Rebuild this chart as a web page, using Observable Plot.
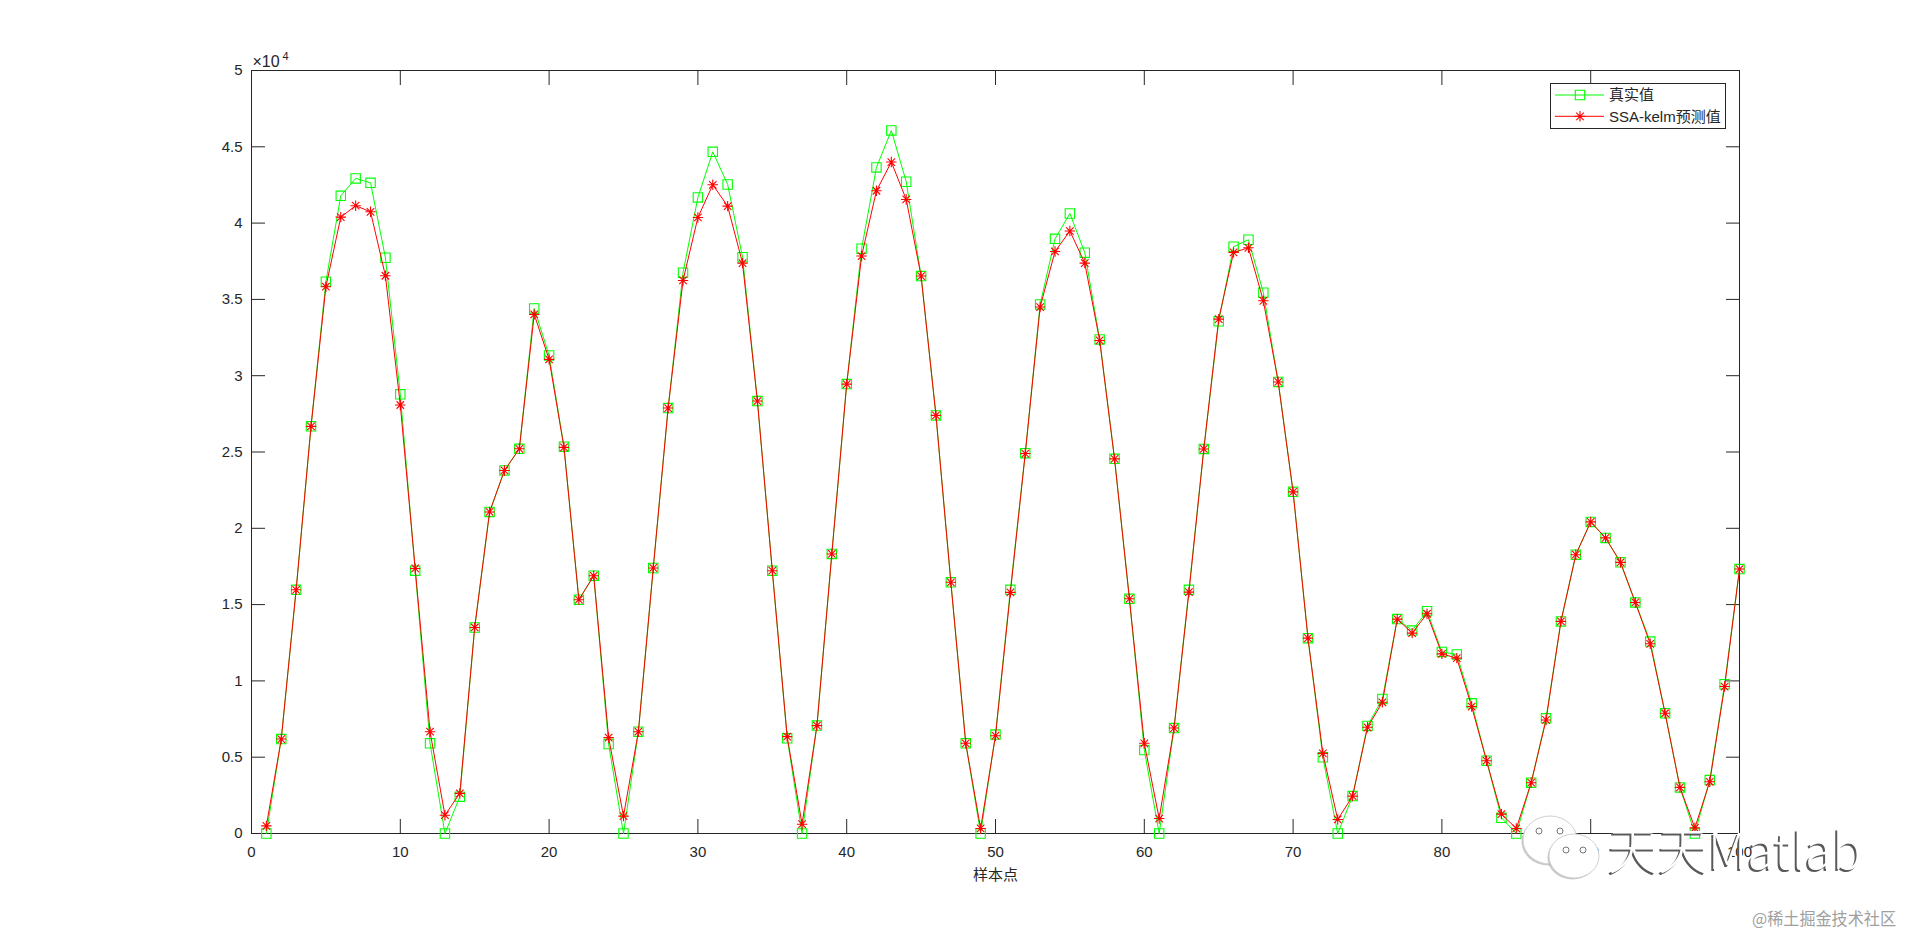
<!DOCTYPE html>
<html>
<head>
<meta charset="utf-8">
<script src="https://cdn.jsdelivr.net/npm/d3@7"></script>
<script src="https://cdn.jsdelivr.net/npm/@observablehq/plot@0.6"></script>
<style>
  html, body { margin: 0; padding: 0; background: #fff; overflow: hidden; }
  #chart svg { display: block; }
</style>
</head>
<body>
<div id="chart"></div>
<script>
// ---- data ----
const samples = d3.range(1, 101);
const trueVals = [
  0, 6190, 15970, 26680, 36160, 41790, 42930, 42640, 37730, 28780,
  17220, 5910, 0, 2410, 13500, 21070, 23790, 25210, 34410, 31330,
  25350, 15320, 16890, 5860, 0, 6670, 17400, 27880, 36750, 41680,
  44670, 42530, 37770, 28340, 17220, 6240, 0, 7070, 18320, 29450,
  38320, 43650, 46070, 42710, 36530, 27400, 16460, 5910, 0, 6480,
  15970, 24920, 34670, 38970, 40630, 38060, 32380, 24550, 15380, 5470,
  0, 6910, 15970, 25200, 33560, 38450, 38910, 35440, 29590, 22390,
  12800, 4990, 0, 2450, 7050, 8820, 14050, 13300, 14570, 11900,
  11730, 8530, 4770, 1030, 0, 3330, 7550, 13900, 18270, 20420,
  19370, 17770, 15140, 12580, 7880, 3020, 0, 3500, 9780, 17330
];
const predVals = [
  500, 6190, 15970, 26680, 35830, 40390, 41140, 40740, 36550, 28080,
  17370, 6670, 1200, 2630, 13500, 21070, 23790, 25210, 34020, 31070,
  25300, 15320, 16890, 6280, 1140, 6670, 17400, 27880, 36240, 40370,
  42510, 41110, 37380, 28340, 17220, 6350, 610, 7070, 18320, 29450,
  37840, 42120, 44000, 41550, 36530, 27400, 16460, 5910, 330, 6410,
  15800, 24900, 34500, 38140, 39480, 37380, 32310, 24550, 15380, 5910,
  980, 6910, 15820, 25200, 33710, 38080, 38380, 34910, 29590, 22390,
  12800, 5250, 920, 2450, 6960, 8600, 14050, 13130, 14400, 11770,
  11490, 8320, 4770, 1270, 330, 3330, 7440, 13900, 18270, 20420,
  19370, 17770, 15140, 12430, 7880, 3020, 370, 3390, 9630, 17330
];
const seriesNames = ["真实值", "SSA-kelm预测值"];
const xTicks = [0, 10, 20, 30, 40, 50, 60, 70, 80, 90, 100];
const yTicks = [0, 5000, 10000, 15000, 20000, 25000, 30000, 35000, 40000, 45000, 50000];
const yTickLabels = ["0", "0.5", "1", "1.5", "2", "2.5", "3", "3.5", "4", "4.5", "5"];
const xLabel = "样本点";
const yExponent = ["×10", "4"];
const watermark = "天天Matlab";
const credit = "@稀土掘金技术社区";

// ---- styling ----
const ink = "#262626";
const green = "#00ff00";
const red = "#ff0000";
const font = "'Liberation Sans', Arial, 'Noto Sans CJK SC', sans-serif";

const trueData = samples.map((s, i) => ({x: s, y: trueVals[i]}));
const predData = samples.map((s, i) => ({x: s, y: predVals[i]}));

// MATLAB-like marker shapes
const squareSym = {
  draw(ctx, size) {
    const r = Math.sqrt(size / Math.PI);
    ctx.moveTo(-r, -r); ctx.lineTo(r, -r); ctx.lineTo(r, r); ctx.lineTo(-r, r); ctx.closePath();
  }
};
const starSym = {
  draw(ctx, size) {
    const r = Math.sqrt(size / Math.PI);
    const d = r * 0.72;
    ctx.moveTo(-r, 0); ctx.lineTo(r, 0);
    ctx.moveTo(0, -r); ctx.lineTo(0, r);
    ctx.moveTo(-d, -d); ctx.lineTo(d, d);
    ctx.moveTo(-d, d); ctx.lineTo(d, -d);
  }
};

const chart = Plot.plot({
  width: 1920,
  height: 937,
  marginLeft: 251,
  marginRight: 181,
  marginTop: 70,
  marginBottom: 104,
  style: {fontFamily: font, fontSize: "15px", color: ink, background: "white"},
  x: {domain: [0, 100]},
  y: {domain: [0, 50000]},
  marks: [
    Plot.axisX({anchor: "bottom", ticks: xTicks, tickSize: -14, tickPadding: 27, fontSize: 15, label: null}),
    Plot.axisX({anchor: "top", ticks: xTicks, tickSize: -14, tickFormat: () => "", label: null}),
    Plot.axisY({anchor: "left", ticks: yTicks, tickSize: -14, tickPadding: 23, fontSize: 15, label: null,
      tickFormat: d => yTickLabels[yTicks.indexOf(d)]}),
    Plot.axisY({anchor: "right", ticks: yTicks, tickSize: -14, tickFormat: () => "", label: null}),
    Plot.frame({stroke: ink, strokeWidth: 1}),
    Plot.line(trueData, {x: "x", y: "y", stroke: green, strokeWidth: 1}),
    Plot.dot(trueData, {x: "x", y: "y", symbol: squareSym, r: 4.7, stroke: green, fill: "none", strokeWidth: 1.1}),
    Plot.line(predData, {x: "x", y: "y", stroke: red, strokeWidth: 1}),
    Plot.dot(predData, {x: "x", y: "y", symbol: starSym, r: 5.2, stroke: red, fill: "none", strokeWidth: 1.1}),
    Plot.text([xLabel], {text: d => d, frameAnchor: "bottom", dy: 42, lineAnchor: "middle", fontSize: 15, fill: ink}),
    Plot.text([yExponent[0]], {text: d => d, frameAnchor: "top-left", dx: 1, dy: -4, textAnchor: "start", lineAnchor: "bottom", fontSize: 16, fill: ink}),
    Plot.text([yExponent[1]], {text: d => d, frameAnchor: "top-left", dx: 31, dy: -11, textAnchor: "start", lineAnchor: "bottom", fontSize: 11, fill: ink})
  ]
});
document.getElementById("chart").appendChild(chart);

// ---- legend (inside axes, top-right) ----
const svg = d3.select(chart);
const legend = svg.append("g").attr("font-family", font).attr("font-size", 15)
  .attr("fill", ink).attr("text-anchor", "start");
legend.append("rect")
  .attr("x", 1550.5).attr("y", 83.5).attr("width", 175).attr("height", 45)
  .attr("fill", "white").attr("stroke", ink).attr("stroke-width", 1);
const legendItems = [
  {name: seriesNames[0], color: green, sym: squareSym, r: 4.7},
  {name: seriesNames[1], color: red, sym: starSym, r: 5.2}
];
legendItems.forEach((it, i) => {
  const cy = 95 + i * 21.3;
  legend.append("line").attr("x1", 1555).attr("x2", 1604).attr("y1", cy).attr("y2", cy)
    .attr("stroke", it.color).attr("stroke-width", 1);
  legend.append("path")
    .attr("d", d3.symbol(it.sym, Math.PI * it.r * it.r)())
    .attr("transform", `translate(1580,${cy})`)
    .attr("fill", "none").attr("stroke", it.color).attr("stroke-width", 1.1);
  legend.append("text").attr("x", 1609).attr("y", cy).attr("dy", "0.35em")
    .attr("text-anchor", "start").text(it.name);
});

// ---- watermark overlay ----
const wm = svg.append("g").attr("text-anchor", "start");
function bubble(g, cx, cy, rx, ry, eyes) {
  g.append("ellipse").attr("cx", cx - 1.5).attr("cy", cy + 1.5).attr("rx", rx).attr("ry", ry)
    .attr("fill", "#b0b0b0").attr("opacity", 0.7);
  g.append("ellipse").attr("cx", cx).attr("cy", cy).attr("rx", rx).attr("ry", ry)
    .attr("fill", "white").attr("stroke", "#d0d0d0").attr("stroke-width", 1);
  eyes.forEach(([ex, ey]) => {
    g.append("circle").attr("cx", ex).attr("cy", ey).attr("r", 3)
      .attr("fill", "white").attr("stroke", "#777").attr("stroke-width", 1);
  });
}
bubble(wm, 1550, 840, 27, 24, [[1539, 831], [1560, 831]]);
bubble(wm, 1574, 856, 25, 22, [[1566, 850], [1583, 850]]);
const wmFont = "'Noto Sans CJK SC', 'Liberation Sans', sans-serif";
wm.append("text").attr("x", 1606).attr("y", 870.5).attr("font-size", 50)
  .attr("font-family", wmFont).attr("font-weight", 300).attr("text-anchor", "start")
  .attr("fill", "#5a5a5a").text(watermark);
wm.append("text").attr("x", 1608).attr("y", 869).attr("font-size", 50)
  .attr("font-family", wmFont).attr("font-weight", 300).attr("text-anchor", "start")
  .attr("fill", "white").text(watermark);
wm.append("text").attr("x", 1752).attr("y", 925).attr("font-size", 17)
  .attr("font-family", "'Noto Sans CJK SC', sans-serif").attr("text-anchor", "start")
  .attr("textLength", 144).attr("lengthAdjust", "spacingAndGlyphs")
  .attr("fill", "#a0a0a0").text(credit);
</script>
</body>
</html>
